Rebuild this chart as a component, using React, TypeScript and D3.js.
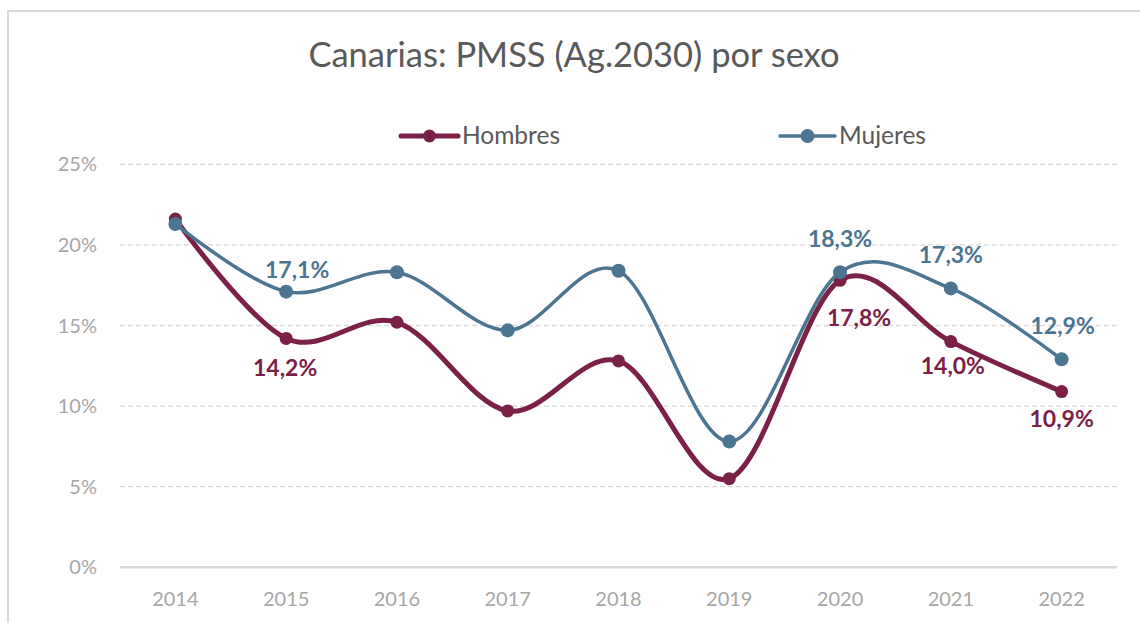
import React from 'react';
import * as d3 from 'd3';

const years = ['2014', '2015', '2016', '2017', '2018', '2019', '2020', '2021', '2022'];
const hombres = [21.6, 14.2, 15.2, 9.7, 12.8, 5.5, 17.8, 14.0, 10.9];
const mujeres = [21.3, 17.1, 18.3, 14.7, 18.4, 7.8, 18.3, 17.3, 12.9];
const yTicks = [0, 5, 10, 15, 20, 25];
const hombresLabels = [null, '14,2%', null, null, null, null, '17,8%', '14,0%', '10,9%'];
const mujeresLabels = [null, '17,1%', null, null, null, null, '18,3%', '17,3%', '12,9%'];
const title = 'Canarias: PMSS (Ag.2030) por sexo';

const W = 1140;
const H = 623;
const FONT = 'Lato, "Open Sans", sans-serif';
const C_H = '#7B2046';
const C_M = '#4B7591';
const GRAY_TXT = '#A6A6A6';
const GRID = '#D9D9D9';

// label placement offsets (center offsets, px)
const hOff: [number, number][] = [[0, 0], [-1, 30], [0, 0], [0, 0], [0, 0], [0, 0], [19, 38], [2, 24], [0, 27]];
const mOff: [number, number][] = [[0, 0], [11, -22], [0, 0], [0, 0], [0, 0], [0, 0], [0, -33], [0, -33], [1, -33]];

export default function App() {
  const x = d3.scaleBand<string>().domain(years).range([120, 1117]);
  const y = d3.scaleLinear().domain([0, 25]).range([567.3, 164.3]);
  const cx = (i: number) => (x(years[i]) as number) + x.bandwidth() / 2;
  const line = d3
    .line<number>()
    .x((_, i) => cx(i))
    .y((d) => y(d))
    .curve(d3.curveCardinal.tension(0));

  const series = [
    { name: 'Hombres', data: hombres, color: C_H, width: 5, r: 6.5, labels: hombresLabels, off: hOff },
    { name: 'Mujeres', data: mujeres, color: C_M, width: 3.5, r: 7, labels: mujeresLabels, off: mOff },
  ];

  return (
    <svg width={W} height={H} style={{ position: 'absolute', left: 0, top: 0 }} fontFamily={FONT}>
      <rect x={0} y={0} width={W} height={H} fill="#fff" />
      <path d={`M8,${H} L8,11 L${W},11`} fill="none" stroke={GRID} strokeWidth={2} />
      <text x={574} y={67} textAnchor="middle" fontSize={34.5} fill="#595959">
        {title}
      </text>
      {/* legend */}
      {[
        { s: series[0], x0: 401, x1: 458, tx: 462 },
        { s: series[1], x0: 780, x1: 835, tx: 839 },
      ].map((l) => (
        <g key={l.s.name}>
          <line x1={l.x0} x2={l.x1} y1={136} y2={136} stroke={l.s.color} strokeWidth={l.s.width} strokeLinecap="round" />
          <circle cx={(l.x0 + l.x1) / 2} cy={136} r={l.s.r} fill={l.s.color} />
          <text x={l.tx} y={144} fontSize={24.5} fill="#595959">
            {l.s.name}
          </text>
        </g>
      ))}
      {/* grid */}
      {yTicks.map((t) => (
        <g key={t}>
          {t === 0 ? (
            <line x1={120} x2={1117} y1={y(t)} y2={y(t)} stroke={GRID} strokeWidth={2.5} />
          ) : (
            <line x1={120} x2={1117} y1={y(t)} y2={y(t)} stroke={GRID} strokeWidth={1.3} strokeDasharray="5,3" />
          )}
          <text x={97} y={y(t) + 7} textAnchor="end" fontSize={20} fill={GRAY_TXT}>
            {`${t}%`}
          </text>
        </g>
      ))}
      {years.map((yr, i) => (
        <text key={yr} x={cx(i)} y={606} textAnchor="middle" fontSize={20} fill={GRAY_TXT}>
          {yr}
        </text>
      ))}
      {/* series */}
      {series.map((s) => (
        <g key={s.name}>
          <path d={line(s.data) || ''} fill="none" stroke={s.color} strokeWidth={s.width} strokeLinejoin="round" />
          {s.data.map((v, i) => (
            <circle key={i} cx={cx(i)} cy={y(v)} r={s.r} fill={s.color} />
          ))}
        </g>
      ))}
      {series.map((s) =>
        s.labels.map((lab, i) =>
          lab ? (
            <text
              key={s.name + i}
              x={cx(i) + s.off[i][0]}
              y={y(s.data[i]) + s.off[i][1] + 8}
              textAnchor="middle"
              fontSize={23}
              fontWeight="bold"
              fill={s.color}
            >
              {lab}
            </text>
          ) : null
        )
      )}
    </svg>
  );
}
